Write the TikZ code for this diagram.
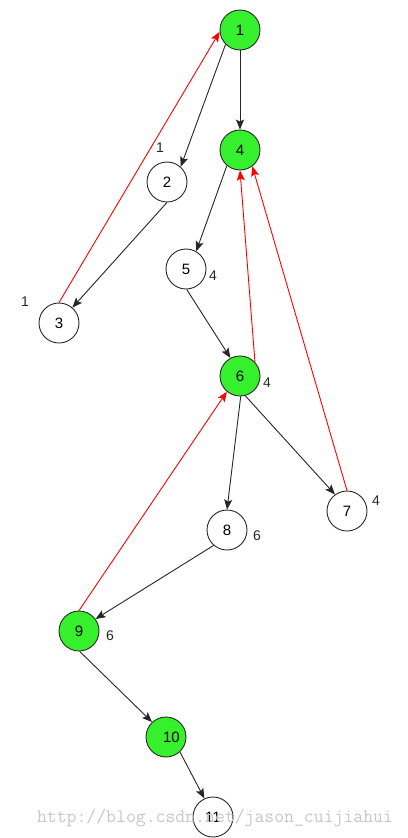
\documentclass[tikz,border=0pt]{standalone}
\usepackage{fontspec}
\setmainfont{Liberation Sans}
\usetikzlibrary{arrows.meta}
\definecolor{nodegreen}{RGB}{55,240,45}
\definecolor{wmgray}{RGB}{200,200,194}
\tikzset{
  vert/.style={circle,draw=black!85,line width=0.9pt,minimum size=40pt,inner sep=0pt,font=\fontsize{15}{15}\selectfont},
  visited/.style={vert,fill=nodegreen},
  plain/.style={vert,fill=white},
  lowlab/.style={inner sep=0pt,font=\fontsize{14}{14}\selectfont,text=black!85},
  tree/.style={draw=black!85,line width=0.9pt,-{Stealth[length=10pt,width=8pt,inset=2pt]}},
  back/.style={draw=red,line width=0.9pt,-{Stealth[length=10pt,width=8pt,inset=2pt]}},
}
\begin{document}
\begin{tikzpicture}[x=1pt,y=-1pt]
\useasboundingbox (0,0) rectangle (407,838);
\node[visited] (n1) at (240,30) {1};
\node[visited] (n4) at (240,150) {4};
\node[plain] (n2) at (167,182) {2};
\node[plain] (n3) at (59,323) {3};
\node[plain] (n5) at (186,269) {5};
\node[visited] (n6) at (240,376) {6};
\node[plain] (n7) at (347,511) {7};
\node[plain] (n8) at (227,530) {8};
\node[visited] (n9) at (79,631) {9};
\node[visited] (n10) at (166,737) {\hspace*{11pt}10};
\node[plain] (n11) at (213,817) {11};

\node[lowlab] (l2) at (160,148) {1};
\node[lowlab] (l3) at (25,302) {1};
\node[lowlab] (l5) at (213,276) {4};
\node[lowlab] (l6) at (267,383) {4};
\node[lowlab] (l7) at (376,501) {4};
\node[lowlab] (l8) at (257,536) {6};
\node[lowlab] (l9) at (110,636) {6};

\draw[tree] (n1.south) -- (n4.north);
\draw[tree] (n1.225) -- (n2.48);
\draw[tree] (n2.south) -- (n3.49);
\draw[tree] (n4.230) -- (n5.60);
\draw[tree] (n5.272) -- (n6.118);
\draw[tree] (n6.272) -- (n8.north);
\draw[tree] (n6.285) -- (n7.126);
\draw[tree] (n8.229) -- (n9.36);
\draw[tree] (n9.272) -- (n10.133);
\draw[tree] (n10.313) -- (n11.115);

\draw[back] (n3.north) -- (n1.185);
\draw[back] (n6.43) -- (n4.south);
\draw[back] (n7.north) -- (n4.307);
\draw[back] (n9.north) -- (n6.230);

\node[inner sep=0pt,text=wmgray,font=\ttfamily\fontsize{19.2}{19.2}\selectfont] (wm) at (215,818) {http://blog.csdn.net/jason\_cuijiahui};
\end{tikzpicture}
\end{document}
